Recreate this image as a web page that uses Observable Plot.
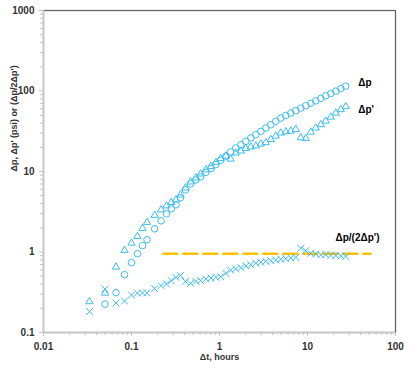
<!DOCTYPE html>
<html><head><meta charset="utf-8">
<script src="https://cdn.jsdelivr.net/npm/d3@7"></script>
<script src="https://cdn.jsdelivr.net/npm/@observablehq/plot@0.6"></script>
<style>
html,body{margin:0;padding:0;background:#fff;overflow:hidden;}
#chart svg{display:block;}
</style></head><body><div id="chart"></div>
<script>
// Δt, hours
const dt = [0.0333, 0.05, 0.0667, 0.0833, 0.1, 0.1167, 0.1333, 0.15, 0.1833, 0.2167, 0.25, 0.2833,
  0.32, 0.36, 0.41, 0.47, 0.54, 0.61, 0.70, 0.80, 0.91, 1.03,
  1.18, 1.34, 1.53, 1.75, 1.99, 2.27, 2.59, 2.95, 3.36, 3.83,
  4.36, 4.97, 5.67, 6.46, 7.36, 8.39, 9.56, 10.9, 12.4, 14.2,
  16.1, 18.4, 21.0, 23.9, 27.2];
// Δp (psi)
const dp = [0.088, 0.225, 0.313, 0.523, 0.737, 0.953, 1.20, 1.42, 1.94, 2.44, 2.98, 3.44,
  3.86, 4.71, 5.92, 7.02, 7.87, 8.57, 9.75, 10.9, 12.2, 13.8,
  15.5, 17.5, 19.6, 21.5, 23.7, 26.1, 28.7, 31.5, 34.7, 38.1,
  42.0, 46.1, 49.6, 53.2, 57.0, 61.4, 65.6, 70.4, 75.4, 81.0,
  87.0, 93.1, 99.7, 107, 115];
// Δp' (psi)
const dpd = [0.242, 0.309, 0.652, 1.05, 1.29, 1.56, 1.97, 2.34, 2.86, 3.34, 3.75, 4.14,
  4.45, 5.13, 6.26, 7.43, 8.33, 9.34, 10.5, 11.6, 13.0, 14.5,
  15.6, 14.3, 17.0, 18.0, 19.3, 20.2, 20.8, 22.0, 22.9, 25.0,
  27.6, 30.1, 31.2, 31.8, 33.4, 26.3, 25.7, 30.9, 34.7, 38.3,
  42.4, 47.5, 53.2, 58.8, 64.1];
// Δp/(2Δp')
const ratio = [0.182, 0.346, 0.232, 0.246, 0.292, 0.309, 0.311, 0.311, 0.351, 0.382, 0.401, 0.441,
  0.484, 0.508, 0.432, 0.408, 0.432, 0.441, 0.463, 0.476, 0.484, 0.494,
  0.543, 0.595, 0.616, 0.639, 0.671, 0.696, 0.726, 0.747, 0.765, 0.780,
  0.796, 0.814, 0.826, 0.843, 0.857, 1.115, 1.038, 0.961, 0.944, 0.926,
  0.926, 0.908, 0.900, 0.895, 0.882];
// horizontal reference line
const flatT = [0.23, 52];
const flatV = [0.95, 0.95];
// ticks
const xTicks = [0.01, 0.1, 1, 10, 100];
const xTickLabels = ["0.01", "0.1", "1", "10", "100"];
const yTicks = [0.1, 1, 10, 100, 1000];
const yTickLabels = ["0.1", "1", "10", "100", "1000"];
// series labels
const labelText = ["Δp", "Δp'", "Δp/(2Δp')"];
const labelT = [37.7, 37.7, 20.8];
const labelV = [126, 59.2, 1.52];

const rows = dt.map((t, i) => ({t, dp: dp[i], dpd: dpd[i], r: ratio[i]}));
const flat = flatT.map((t, i) => ({t, v: flatV[i]}));
const labels = labelText.map((s, i) => ({s, t: labelT[i], v: labelV[i]}));
const minor = ticks => ticks.slice(0, -1).flatMap(d => [2,3,4,5,6,7,8,9].map(k => d * k));

const blue = "#3DBDEF";
const font = "'Liberation Sans', Arial, sans-serif";

const plot = Plot.plot({
  width: 412, height: 373,
  marginLeft: 43, marginRight: 17, marginTop: 10, marginBottom: 41,
  style: {fontFamily: font, fontSize: "10px", fontWeight: "bold", color: "#333", background: "#fff", overflow: "visible", maxWidth: "none"},
  x: {type: "log", domain: [0.01, 100]},
  y: {type: "log", domain: [0.1, 1000]},
  marks: [
    Plot.frame({stroke: "#666", strokeWidth: 1.3}),
    Plot.ruleX([0.01], {stroke: "#c8c8c8", strokeWidth: 1.3}),
    Plot.ruleY([0.1], {stroke: "#c8c8c8", strokeWidth: 1.3}),
    Plot.axisX(minor(xTicks), {tickSize: 3, stroke: "#c4c4c4", tickFormat: () => "", label: null}),
    Plot.axisY(minor(yTicks), {tickSize: 3, stroke: "#c4c4c4", tickFormat: () => "", label: null}),
    Plot.axisX(xTicks, {tickSize: 4, tickPadding: 6, stroke: "#c4c4c4", tickFormat: d => xTickLabels[xTicks.indexOf(d)], label: null}),
    Plot.axisY(yTicks, {tickSize: 4, tickPadding: 5, stroke: "#c4c4c4", tickFormat: d => yTickLabels[yTicks.indexOf(d)], label: null}),
    Plot.text(["Δp, Δp' (psi) or (Δp/2Δp')"], {frameAnchor: "left", dx: -29, rotate: -90, fontSize: 9, fill: "#333", lineAnchor: "middle"}),
    Plot.text(["Δt, hours"], {frameAnchor: "bottom", dy: 25, fontSize: 9, fill: "#333", lineAnchor: "middle"}),
    Plot.line(flat, {x: "t", y: "v", stroke: "#FFC000", strokeWidth: 2.5, strokeDasharray: "14,6"}),
    Plot.dot(rows, {x: "t", y: "dp", r: 3.3, stroke: blue, fill: "none", strokeWidth: 1, clip: true}),
    Plot.dot(rows, {x: "t", y: "dpd", r: 2.7, symbol: "triangle", stroke: blue, fill: "none", strokeWidth: 1, clip: true}),
    Plot.dot(rows, {x: "t", y: "r", r: 3.2, symbol: "times", stroke: blue, fill: "none", strokeWidth: 1, clip: true}),
    Plot.text(labels, {x: "t", y: "v", text: "s", textAnchor: "start", fontSize: 10, fill: "#000", fontWeight: "bold"})
  ]
});
document.getElementById("chart").appendChild(plot);
</script>
</body></html>
